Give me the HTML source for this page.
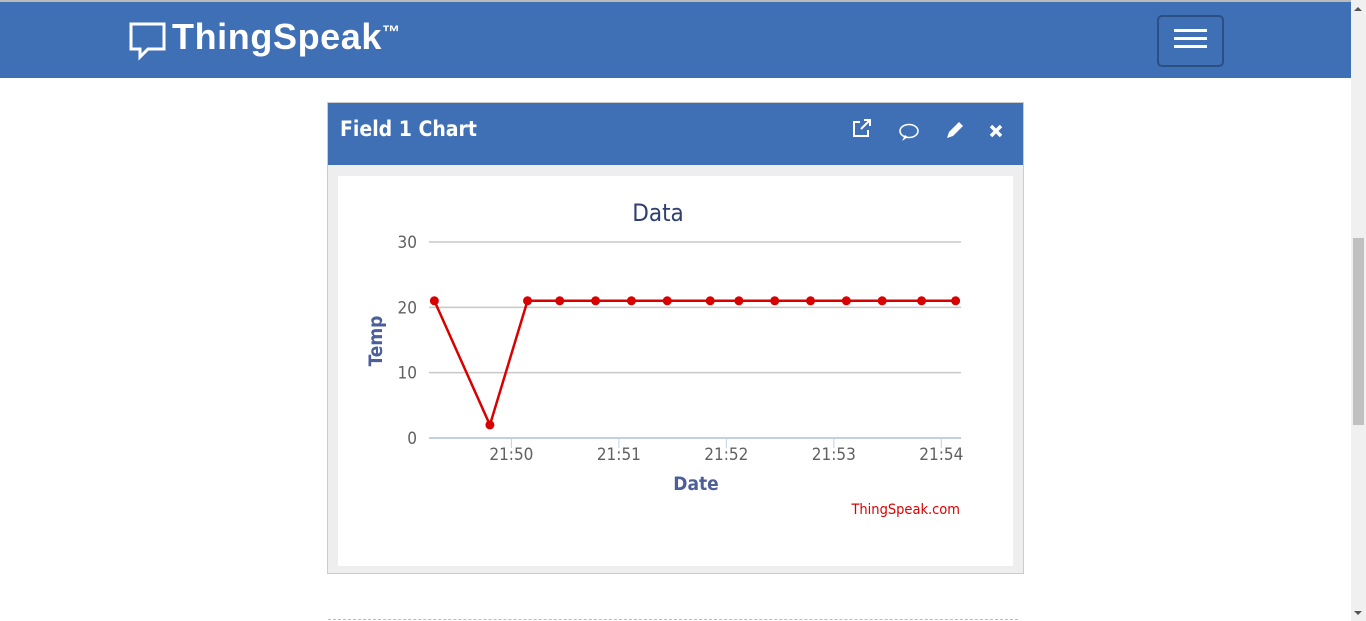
<!DOCTYPE html>
<html><head><meta charset="utf-8"><style>
body{margin:0;width:1366px;height:621px;overflow:hidden;background:#fff;font-family:"Liberation Sans",sans-serif;position:relative}
.abs{position:absolute}
</style></head><body>
<div class="abs" style="left:0;top:0;width:1351px;height:2px;background:#bbb"></div>
<div class="abs" style="left:0;top:2px;width:1351px;height:76px;background:#3f6fb5"></div>
<svg class="abs" style="left:128px;top:22px" width="40" height="40"><path d="M3 2 H36 V27 H20 L12 35 V27 H3 Z" fill="none" stroke="#fff" stroke-width="3"/></svg>
<div class="abs" style="left:172px;top:16px;color:#fff;font-weight:bold;font-size:36px;letter-spacing:0.6px">ThingSpeak<span style="font-size:18px;vertical-align:top;position:relative;top:6px">™</span></div>
<div class="abs" style="left:1157px;top:15px;width:63px;height:48px;border:2px solid #2b4f82;border-radius:5px">
<div style="position:absolute;left:15px;top:12px;width:33px;height:3px;background:#fff"></div>
<div style="position:absolute;left:15px;top:20px;width:33px;height:3px;background:#fff"></div>
<div style="position:absolute;left:15px;top:28px;width:33px;height:3px;background:#fff"></div>
</div>
<div class="abs" style="left:1351px;top:0;width:15px;height:621px;background:#f0f0f0">
<div style="position:absolute;left:2px;top:238px;width:11px;height:187px;background:#c0c0c0"></div>
<div style="position:absolute;left:3px;top:7px;border:4px solid transparent;border-bottom-color:#555;border-top:0"></div>
<div style="position:absolute;left:3px;top:611px;border:4px solid transparent;border-top-color:#555;border-bottom:0"></div>
</div>
<div class="abs" style="left:327px;top:102px;width:695px;height:470px;border:1px solid #ccc;background:#eee"></div>
<div class="abs" style="left:328px;top:103px;width:695px;height:62px;background:#3f6fb5"></div>
<div class="abs" style="left:340px;top:117px;color:#fff;font-size:21px;font-weight:bold;font-family:'DejaVu Sans Condensed','DejaVu Sans',sans-serif">Field 1 Chart</div>
<svg class="abs" style="left:850px;top:118px" width="160" height="26">
<g fill="none" stroke="#fff" stroke-width="2"><path d="M10 4 H4 V18 H18 V12"/><path d="M11 11 L20 2 M14 2 H20 V8"/></g>
<g><ellipse cx="59" cy="13" rx="9" ry="6.5" fill="none" stroke="#fff" stroke-width="1.6"/><path d="M52 23 L55 17 L58 19 Z" fill="#fff"/></g>
<path d="M97 20 L99 14 L109 4 L113 8 L103 18 Z" fill="#fff"/>
<path d="M141 8 L151 18 M151 8 L141 18" stroke="#fff" stroke-width="3.5"/>
</svg>
<div class="abs" style="left:338px;top:176px;width:675px;height:390px;background:#fff"></div>
<svg class="abs" id="chart" style="left:0;top:0" width="1366" height="621"></svg>
<div class="abs" style="left:328px;top:619px;width:690px;border-top:1px dashed #bbb"></div>
<script>
const timesSec=[17,48,69,87,107,127,147,171,187,207,227,247,267,289,308];
const temps=[21,2,21,21,21,21,21,21,21,21,21,21,21,21,21];
const yTicks=[0,10,20,30];
const xTickSec=[60,120,180,240,300];
const xTickLabels=["21:50","21:51","21:52","21:53","21:54"];
const X0=429,X1=961,Y0=438,Y1=242,tMin=14,tMax=311,vMax=30;
const sx=t=>X0+(t-tMin)/(tMax-tMin)*(X1-X0);
const sy=v=>Y0-v/vMax*(Y0-Y1);
const svg=document.getElementById('chart');const NS='http://www.w3.org/2000/svg';
function mk(tag,attrs,txt){const e=document.createElementNS(NS,tag);for(const k in attrs)e.setAttribute(k,attrs[k]);if(txt!==undefined)e.textContent=txt;svg.appendChild(e);return e;}
const F="'DejaVu Sans Condensed','DejaVu Sans',sans-serif";
let e=mk('text',{x:658,y:221,'text-anchor':'middle','font-size':24,fill:'#2f3f6f','font-family':F},'Data');


yTicks.forEach(v=>{
 let g=mk('line',{x1:X0,x2:X1,y1:sy(v),y2:sy(v),stroke:v===0?'#c0d0e0':'#c8c8c8','stroke-width':v===0?2:1.5});
 
 
 let t=mk('text',{x:417,y:sy(v)+6,'text-anchor':'end','font-size':17,fill:'#606060','font-family':F},String(v));
 
 
});
xTickSec.forEach((s,i)=>{
 let l=mk('line',{x1:sx(s),x2:sx(s),y1:Y0,y2:Y0+10,stroke:'#c0d0e0','stroke-width':1});
 
 
 let t=mk('text',{x:sx(s),y:Y0+22,'text-anchor':'middle','font-size':17,fill:'#606060','font-family':F},xTickLabels[i]);
 
 
});
e=mk('text',{x:382,y:341,'text-anchor':'middle','font-size':19,'font-weight':'bold',fill:'#4d5f99','font-family':F,transform:'rotate(-90 382 341)'},'Temp');


e=mk('text',{x:696,y:490,'text-anchor':'middle','font-size':19,'font-weight':'bold',fill:'#4d5f99','font-family':F},'Date');


e=mk('text',{x:960,y:514,'text-anchor':'end','font-size':14.5,fill:'#d00','font-family':F},'ThingSpeak.com');


const pts=timesSec.map((t,i)=>sx(t)+','+sy(temps[i])).join(' ');
e=mk('polyline',{points:pts,fill:'none',stroke:'#d90000','stroke-width':2.5});


timesSec.forEach((t,i)=>{
 let c=mk('circle',{cx:sx(t),cy:sy(temps[i]),r:4.5,fill:'#d90000'});
 
 
});
</script>
</body></html>
